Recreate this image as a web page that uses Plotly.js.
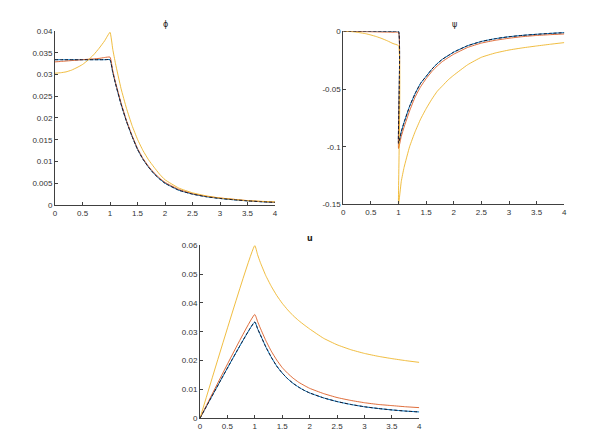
<!DOCTYPE html>
<html>
<head>
<meta charset="utf-8">
<script src="https://cdn.plot.ly/plotly-3.0.1.min.js"></script>
<style>html,body{margin:0;padding:0;background:#fff;}#chart{width:608px;height:444px;}</style>
</head>
<body>
<div id="chart"></div>
<script>
// ---------- phi panel ----------
const xPhi = [0,0.1,0.2,0.3,0.4,0.5,0.6,0.7,0.8,0.9,1.0,1.05,1.1,1.2,1.3,1.4,1.5,1.6,1.7,1.8,1.9,2.0,2.25,2.5,2.75,3.0,3.25,3.5,3.75,4.0];
const phiBlue   = [0.0334,0.0334,0.0334,0.0334,0.0334,0.0334,0.0334,0.0334,0.0334,0.0334,0.0334,0.0305,0.0279,0.0232,0.0192,0.0158,0.0128,0.0105,0.0087,0.0072,0.0060,0.0050,0.0034,0.0025,0.0019,0.0015,0.0012,0.00095,0.00075,0.0006];
const phiOrange = [0.0329,0.0330,0.0331,0.0332,0.0333,0.0334,0.0335,0.0336,0.0337,0.0339,0.0340,0.0309,0.0282,0.0235,0.0194,0.0160,0.0130,0.0107,0.0089,0.0074,0.0062,0.0052,0.0036,0.0026,0.0020,0.0016,0.0013,0.0010,0.0008,0.00065];
const phiYellow = [0.0303,0.0304,0.0306,0.0310,0.0316,0.0323,0.0333,0.0345,0.0360,0.0377,0.0397,0.0358,0.0325,0.0268,0.0222,0.0183,0.0151,0.0125,0.0104,0.0087,0.0071,0.0058,0.0039,0.0028,0.0021,0.0016,0.0013,0.0010,0.00085,0.0007];

// ---------- psi panel ----------
const xPsi = [0,0.1,0.2,0.3,0.4,0.5,0.6,0.7,0.8,0.9,1.0,1.0,1.05,1.1,1.2,1.3,1.4,1.5,1.6,1.7,1.8,1.9,2.0,2.25,2.5,2.75,3.0,3.25,3.5,3.75,4.0];
const psiBlue   = [0,0,0,0,0,0,0,0,0,0,0,-0.097,-0.087,-0.079,-0.065,-0.054,-0.045,-0.039,-0.033,-0.028,-0.024,-0.021,-0.018,-0.0125,-0.0088,-0.0064,-0.0047,-0.0035,-0.0026,-0.0018,-0.0012];
const psiOrange = [0,0,-0.0001,-0.0002,-0.0003,-0.0004,-0.0005,-0.0006,-0.0007,-0.0008,-0.001,-0.1015,-0.091,-0.083,-0.069,-0.057,-0.048,-0.041,-0.035,-0.030,-0.026,-0.0228,-0.0198,-0.014,-0.0102,-0.0078,-0.0060,-0.0046,-0.0036,-0.0029,-0.0023];
const psiYellow = [0,-0.0001,-0.0005,-0.0012,-0.002,-0.0032,-0.0046,-0.0063,-0.0083,-0.0106,-0.0125,-0.15,-0.130,-0.118,-0.100,-0.087,-0.076,-0.067,-0.059,-0.052,-0.047,-0.042,-0.038,-0.029,-0.0225,-0.0188,-0.0162,-0.0143,-0.0127,-0.0112,-0.0098];

// ---------- u panel ----------
const xU = [0,1.0,1.05,1.1,1.2,1.3,1.4,1.5,1.6,1.7,1.8,1.9,2.0,2.25,2.5,2.75,3.0,3.25,3.5,3.75,4.0];
const uBlue   = [0,0.0334,0.0311,0.0290,0.0248,0.0212,0.0181,0.0157,0.0137,0.0121,0.0108,0.0097,0.0088,0.0071,0.0058,0.0048,0.0040,0.0034,0.0029,0.0025,0.0022];
const uOrange = [0,0.0360,0.0336,0.0313,0.0270,0.0233,0.0202,0.0176,0.0156,0.0139,0.0125,0.0114,0.0104,0.0086,0.0072,0.0062,0.0054,0.0048,0.0044,0.0040,0.0037];
const uYellow = [0,0.0599,0.0568,0.0541,0.0495,0.0458,0.0426,0.0399,0.0376,0.0356,0.0339,0.0324,0.0310,0.0278,0.0255,0.0238,0.0225,0.0215,0.0207,0.0200,0.0194];

// ---------- ticks ----------
const xTickVals = [0,0.5,1,1.5,2,2.5,3,3.5,4];
const xTickText = ["0","0.5","1","1.5","2","2.5","3","3.5","4"];
const phiTickVals = [0,0.005,0.01,0.015,0.02,0.025,0.03,0.035,0.04];
const phiTickText = ["0","0.005","0.01","0.015","0.02","0.025","0.03","0.035","0.04"];
const psiTickVals = [-0.15,-0.1,-0.05,0];
const psiTickText = ["-0.15","-0.1","-0.05","0"];
const uTickVals = [0,0.01,0.02,0.03,0.04,0.05,0.06];
const uTickText = ["0","0.01","0.02","0.03","0.04","0.05","0.06"];
const titles = ["\u03d5","\u03c8","u"];

const BLUE = "#0072BD", ORANGE = "#D95319", YELLOW = "#EDB120", DARK = "#1a1a2e";

function set(xs, b, o, y, xa, ya) {
  return [
    {x: xs, y: b, xaxis: xa, yaxis: ya, mode: "lines", line: {color: BLUE, width: 1, shape: "spline", smoothing: 0.4}},
    {x: xs, y: o, xaxis: xa, yaxis: ya, mode: "lines", opacity: 0.85, line: {color: ORANGE, width: 1, shape: "spline", smoothing: 0.4}},
    {x: xs, y: y, xaxis: xa, yaxis: ya, mode: "lines", opacity: 0.85, line: {color: YELLOW, width: 1, shape: "spline", smoothing: 0.4}},
    {x: xs, y: b, xaxis: xa, yaxis: ya, mode: "lines", line: {color: DARK, width: 1, dash: "3px,2px", shape: "spline", smoothing: 0.4}}
  ];
}

const data = [].concat(
  set(xPhi, phiBlue, phiOrange, phiYellow, "x", "y"),
  set(xPsi, psiBlue, psiOrange, psiYellow, "x2", "y2"),
  set(xU, uBlue, uOrange, uYellow, "x3", "y3")
);

const axCol = "#404040";
const tickFont = {family: "Liberation Sans, Arial, sans-serif", size: 8, color: "#333"};
function xax(dom, anchor) {
  return {domain: dom, anchor: anchor, range: [0, 4], tickvals: xTickVals, ticktext: xTickText,
    showline: true, linecolor: axCol, linewidth: 1, ticks: "inside", ticklen: 3, tickcolor: axCol,
    showgrid: false, zeroline: false, tickfont: tickFont, fixedrange: true};
}
function yax(dom, anchor, rng, tv, tt) {
  return {domain: dom, anchor: anchor, range: rng, tickvals: tv, ticktext: tt,
    showline: true, linecolor: axCol, linewidth: 1, ticks: "inside", ticklen: 3, tickcolor: axCol,
    showgrid: false, zeroline: false, tickfont: tickFont, fixedrange: true};
}

const layout = {
  width: 608, height: 444,
  margin: {l: 0, r: 0, t: 0, b: 0},
  paper_bgcolor: "#ffffff", plot_bgcolor: "#ffffff",
  showlegend: false,
  xaxis:  xax([0.0905, 0.4523], "y"),
  yaxis:  yax([0.5383, 0.9302], "x", [0, 0.04], phiTickVals, phiTickText),
  xaxis2: xax([0.5646, 0.9281], "y2"),
  yaxis2: yax([0.5395, 0.9295], "x2", [-0.15, 0], psiTickVals, psiTickText),
  xaxis3: xax([0.3289, 0.6896], "y3"),
  yaxis3: yax([0.0579, 0.4475], "x3", [0, 0.06], uTickVals, uTickText),
  annotations: [
    {text: titles[0], x: 165, y: 444 - 25, xref: "paper", yref: "paper"},
    {text: titles[1], x: 454, y: 444 - 25, xref: "paper", yref: "paper"},
    {text: "<b>" + titles[2] + "</b>", x: 310, y: 444 - 238, xref: "paper", yref: "paper"}
  ].map(a => Object.assign(a, {x: a.x / 608, y: a.y / 444, showarrow: false,
    xanchor: "center", yanchor: "middle",
    font: {family: "DejaVu Sans, sans-serif", size: 8, color: "#222"}}))
};

Plotly.newPlot("chart", data, layout, {staticPlot: true, displayModeBar: false});
</script>
</body>
</html>
